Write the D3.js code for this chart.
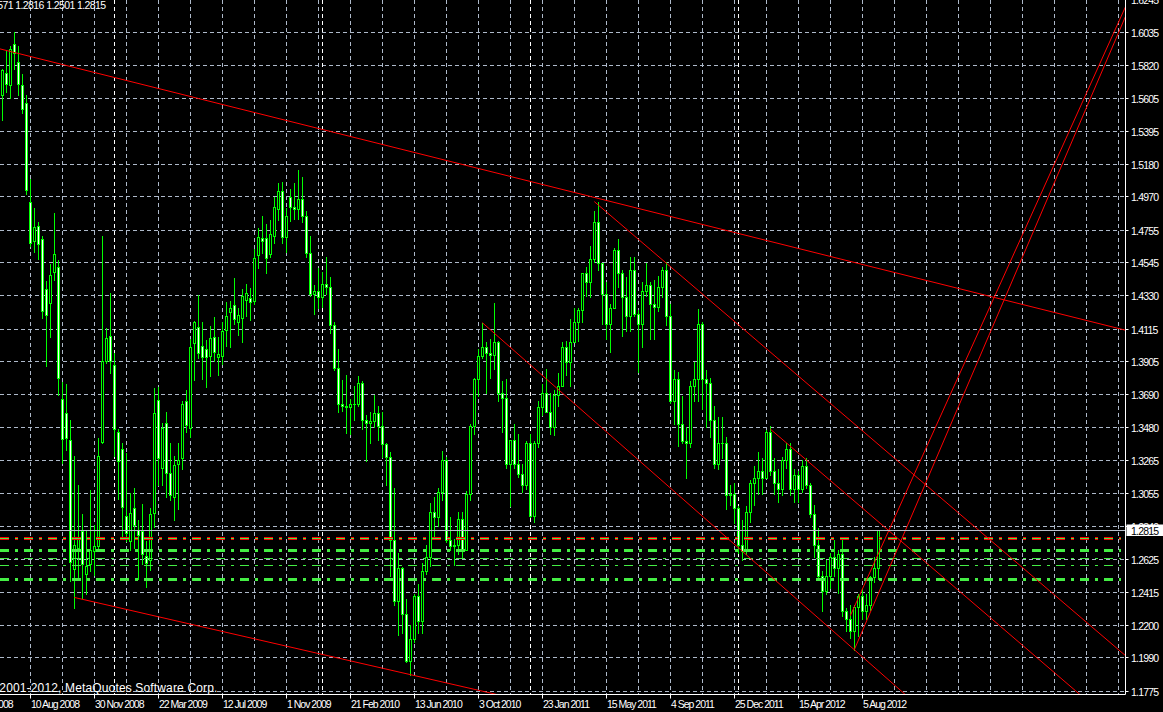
<!DOCTYPE html>
<html><head><meta charset="utf-8">
<script src="https://cdn.jsdelivr.net/npm/d3@7"></script>
<style>
html,body{margin:0;padding:0;background:#000;overflow:hidden}
svg{display:block}
text{font-family:"Liberation Sans",Arial,sans-serif}
</style></head><body>
<svg id="c" width="1163" height="712"></svg>
<script>
// ---------------- DATA ----------------
const firstWeek = "2008-06-22";   // first weekly bar (Sunday)
const opens = [
1.5627,1.5773,1.5693,1.5961,1.5842,1.5693,1.5575,1.4938,1.4686,1.4785,
1.4696,1.4374,1.4287,1.4488,1.4518,1.3663,1.3572,1.3396,1.2566,1.2703,
1.2809,1.2529,1.2599,1.2678,1.2710,1.3386,1.3911,1.4072,1.3881,1.3453,
1.3342,1.2908,1.2742,1.2958,1.2818,1.2809,1.2647,1.2620,1.2923,1.3656,
1.3214,1.3505,1.3182,1.3030,1.3242,1.3279,1.3650,1.3479,1.4023,1.4126,
1.4007,1.3984,1.3941,1.4062,1.3932,1.3943,1.4109,1.4227,1.4271,1.4163,
1.4185,1.4303,1.4318,1.4298,1.4594,1.4702,1.4702,1.4601,1.4719,1.4890,
1.5008,1.4708,1.4971,1.4903,1.4890,1.4960,1.4850,1.4610,1.4345,1.4365,
1.4320,1.4410,1.4390,1.4140,1.3865,1.3630,1.3620,1.3610,1.3630,1.3630,
1.3770,1.3530,1.3510,1.3520,1.3570,1.3490,1.3370,1.3290,1.2750,1.2360,
1.2570,1.2270,1.1970,1.2110,1.2390,1.2230,1.2550,1.2640,1.2930,1.2900,
1.3060,1.3270,1.2750,1.2710,1.2720,1.2890,1.2690,1.3050,1.3490,1.3790,
1.3940,1.4000,1.3960,1.3950,1.4030,1.3700,1.3670,1.3240,1.3400,1.3240,
1.3180,1.3110,1.3380,1.2910,1.3380,1.3610,1.3700,1.3580,1.3480,1.3690,
1.3750,1.4000,1.3900,1.4030,1.4160,1.4240,1.4480,1.4420,1.4570,1.4810,
1.4540,1.4340,1.4150,1.4250,1.4630,1.4480,1.4320,1.4200,1.4500,1.4210,
1.4150,1.4360,1.4400,1.4280,1.4260,1.4390,1.4500,1.4200,1.3650,1.3790,
1.3500,1.3390,1.3380,1.3750,1.3790,1.4150,1.3790,1.3770,1.3530,1.3240,
1.3380,1.3380,1.3040,1.3050,1.2960,1.2720,1.2680,1.2930,1.3120,1.3150,
1.3200,1.3150,1.3450,1.3200,1.3120,1.3080,1.3270,1.3340,1.3080,1.3170,
1.3080,1.3230,1.3110,1.2920,1.2720,1.2520,1.2420,1.2520,1.2640,1.2570,
1.2660,1.2290,1.2240,1.2160,1.2320,1.2390,1.2290,1.2330,1.2510,1.2571];
const highs = [
1.5798,1.5911,1.5946,1.6036,1.5946,1.5768,1.5627,1.5087,1.4901,1.4808,
1.4716,1.4426,1.4535,1.4864,1.4560,1.3775,1.3762,1.3527,1.3292,1.3106,
1.2920,1.2809,1.3074,1.2846,1.3411,1.4716,1.4121,1.4351,1.3960,1.3470,
1.3378,1.3317,1.3057,1.3089,1.2883,1.2982,1.2747,1.2960,1.3732,1.3738,
1.3505,1.3580,1.3380,1.3294,1.3376,1.3651,1.3721,1.4049,1.4169,1.4335,
1.4163,1.4044,1.4135,1.4191,1.4062,1.4163,1.4288,1.4298,1.4443,1.4255,
1.4372,1.4406,1.4379,1.4631,1.4767,1.4847,1.4795,1.4821,1.4967,1.5058,
1.5064,1.4896,1.5019,1.5063,1.5144,1.5100,1.4880,1.4720,1.4400,1.4510,
1.4485,1.4580,1.4455,1.4160,1.3990,1.3785,1.3820,1.3665,1.3745,1.3815,
1.3780,1.3560,1.3580,1.3690,1.3620,1.3580,1.3380,1.3320,1.3090,1.2670,
1.2580,1.2370,1.2200,1.2400,1.2470,1.2600,1.2720,1.2990,1.3030,1.3090,
1.3330,1.3290,1.2900,1.2760,1.2930,1.2930,1.3070,1.3500,1.3800,1.3990,
1.4157,1.4030,1.4050,1.4282,1.4040,1.3780,1.3790,1.3400,1.3500,1.3440,
1.3240,1.3390,1.3440,1.3390,1.3650,1.3760,1.3860,1.3700,1.3720,1.3830,
1.4030,1.4040,1.4180,1.4250,1.4250,1.4480,1.4520,1.4650,1.4880,1.4940,
1.4540,1.4420,1.4280,1.4640,1.4700,1.4500,1.4450,1.4580,1.4580,1.4240,
1.4420,1.4540,1.4420,1.4430,1.4460,1.4520,1.4550,1.4280,1.3850,1.3840,
1.3680,1.3480,1.3780,1.3900,1.4247,1.4160,1.3850,1.3800,1.3620,1.3550,
1.3550,1.3420,1.3110,1.3120,1.2970,1.2880,1.2970,1.3140,1.3230,1.3320,
1.3280,1.3460,1.3486,1.3280,1.3210,1.3290,1.3380,1.3380,1.3210,1.3200,
1.3270,1.3280,1.3120,1.2980,1.2830,1.2550,1.2620,1.2670,1.2750,1.2690,
1.2750,1.2310,1.2330,1.2330,1.2400,1.2440,1.2400,1.2520,1.2640,1.2816];
const lows = [
1.5466,1.5651,1.5607,1.5798,1.5627,1.5513,1.4988,1.4654,1.4617,1.4567,
1.4188,1.3874,1.4064,1.4431,1.3688,1.3247,1.3336,1.2487,1.2314,1.2512,
1.2376,1.2405,1.2549,1.2524,1.2698,1.3378,1.3898,1.3833,1.3297,1.3019,
1.2759,1.2747,1.2685,1.2702,1.2500,1.2599,1.2450,1.2560,1.2836,1.3106,
1.3106,1.3030,1.3009,1.2880,1.2955,1.3208,1.3451,1.3415,1.3785,1.3926,
1.3790,1.3742,1.3811,1.3910,1.3818,1.3893,1.4006,1.4001,1.4148,1.4077,
1.4033,1.4200,1.4174,1.4277,1.4508,1.4609,1.4480,1.4579,1.4674,1.4821,
1.4674,1.4615,1.4816,1.4830,1.4826,1.4810,1.4585,1.4330,1.4215,1.4250,
1.4260,1.4345,1.4090,1.3850,1.3580,1.3585,1.3445,1.3435,1.3530,1.3615,
1.3470,1.3265,1.3380,1.3480,1.3400,1.3290,1.3110,1.2520,1.2330,1.2140,
1.2150,1.1960,1.1876,1.2090,1.2150,1.2150,1.2530,1.2585,1.2760,1.2840,
1.3010,1.2740,1.2690,1.2590,1.2660,1.2640,1.2690,1.3010,1.3440,1.3680,
1.3930,1.3700,1.3800,1.3860,1.3650,1.3450,1.3220,1.2970,1.3220,1.3160,
1.3060,1.3080,1.2900,1.2870,1.3350,1.3560,1.3640,1.3440,1.3430,1.3620,
1.3750,1.3820,1.3750,1.4030,1.4040,1.4160,1.4330,1.4320,1.4550,1.4500,
1.4150,1.4050,1.3970,1.4250,1.4390,1.4070,1.4100,1.4100,1.4200,1.3840,
1.4000,1.4330,1.4050,1.4050,1.4230,1.4320,1.4140,1.3640,1.3500,1.3360,
1.3380,1.3150,1.3350,1.3650,1.3650,1.3600,1.3480,1.3420,1.3220,1.3210,
1.3280,1.2950,1.2980,1.2860,1.2670,1.2624,1.2660,1.2870,1.2980,1.3050,
1.3050,1.3150,1.3170,1.3050,1.3000,1.3040,1.3220,1.3040,1.3000,1.3000,
1.3060,1.3090,1.2900,1.2640,1.2500,1.2290,1.2400,1.2440,1.2520,1.2410,
1.2260,1.2160,1.2120,1.2042,1.2130,1.2240,1.2240,1.2300,1.2480,1.2501];
const closes = [
1.5788,1.5699,1.5929,1.5904,1.5699,1.5540,1.5013,1.4671,1.4773,1.4666,
1.4233,1.4208,1.4468,1.4604,1.3800,1.3404,1.3408,1.2611,1.2718,1.2760,
1.2599,1.2586,1.2685,1.2710,1.3297,1.3911,1.4060,1.3911,1.3470,1.3262,
1.2965,1.2797,1.2926,1.2846,1.2784,1.2660,1.2604,1.2920,1.3576,1.3279,
1.3479,1.3182,1.3041,1.3235,1.3268,1.3630,1.3494,1.3997,1.4159,1.3958,
1.3936,1.3932,1.4055,1.3969,1.3954,1.4102,1.4200,1.4255,1.4178,1.4206,
1.4329,1.4346,1.4292,1.4573,1.4709,1.4687,1.4573,1.4728,1.4903,1.5008,
1.4713,1.4847,1.4903,1.4890,1.4960,1.4850,1.4610,1.4345,1.4365,1.4320,
1.4410,1.4390,1.4140,1.3865,1.3630,1.3620,1.3610,1.3630,1.3630,1.3770,
1.3530,1.3510,1.3520,1.3570,1.3490,1.3370,1.3290,1.2750,1.2360,1.2570,
1.2270,1.1970,1.2110,1.2390,1.2230,1.2550,1.2640,1.2930,1.2900,1.3060,
1.3270,1.2750,1.2710,1.2720,1.2890,1.2690,1.3050,1.3490,1.3790,1.3940,
1.4000,1.3960,1.3950,1.4030,1.3700,1.3670,1.3240,1.3400,1.3240,1.3180,
1.3110,1.3380,1.2910,1.3380,1.3610,1.3700,1.3580,1.3480,1.3690,1.3750,
1.4000,1.3900,1.4030,1.4160,1.4240,1.4480,1.4420,1.4570,1.4810,1.4540,
1.4340,1.4150,1.4250,1.4630,1.4480,1.4320,1.4200,1.4500,1.4210,1.4150,
1.4360,1.4400,1.4280,1.4260,1.4390,1.4500,1.4200,1.3650,1.3790,1.3500,
1.3390,1.3380,1.3750,1.3790,1.4150,1.3790,1.3770,1.3530,1.3240,1.3380,
1.3380,1.3040,1.3050,1.2960,1.2720,1.2680,1.2930,1.3120,1.3150,1.3200,
1.3150,1.3450,1.3200,1.3120,1.3080,1.3270,1.3340,1.3080,1.3170,1.3080,
1.3230,1.3110,1.2920,1.2720,1.2520,1.2420,1.2520,1.2640,1.2570,1.2660,
1.2290,1.2240,1.2160,1.2320,1.2390,1.2290,1.2330,1.2510,1.2570,1.2815];

const priceTicks = ["1.6245","1.6035","1.5820","1.5605","1.5395","1.5180","1.4970","1.4755",
  "1.4545","1.4330","1.4115","1.3905","1.3690","1.3480","1.3265","1.3055","1.2840","1.2625",
  "1.2415","1.2200","1.1990","1.1775"];
const dateTicks = ["20 Apr 2008","10 Aug 2008","30 Nov 2008","22 Mar 2009","12 Jul 2009",
  "1 Nov 2009","21 Feb 2010","13 Jun 2010","3 Oct 2010","23 Jan 2011","15 May 2011",
  "4 Sep 2011","25 Dec 2011","15 Apr 2012","5 Aug 2012"];
const gridStart = "2008-08-10";          // vertical grid every 8 weeks
const yearStarts = ["2009-01-04","2010-01-03","2011-01-02","2012-01-01"];
const lastPrice = 1.2815;
const headerText = "1.2571 1.2816 1.2501 1.2815";
const copyright = "\u00A92001-2012, MetaQuotes Software Corp.";
// horizontal levels (prices)
const levelPrices = [1.2767, 1.2760, 1.2752, 1.2682, 1.2633, 1.2588, 1.2493];
// trend lines: [date1, price1, date2, price2]
const trendAnchors = [
  ["2008-06-22", 1.5924, "2011-04-24", 1.4967],
  ["2011-04-24", 1.4940, "2011-08-28", 1.4542],
  ["2008-10-26", 1.2380, "2010-06-06", 1.1881],
  ["2010-10-10", 1.4157, "2012-07-22", 1.2042],
  ["2012-02-26", 1.3469, "2013-03-24", 1.2227],
  ["2012-07-15", 1.2262, "2013-10-20", 1.6040],
  ["2012-07-22", 1.2042, "2013-10-27", 1.6029]
];

// ---------------- DRAW ----------------
const W = 1163, H = 712, PR = 1125.5, PB = 694.5;
const svg = d3.select("#c");
svg.append("rect").attr("width", W).attr("height", H).attr("fill", "#000");

const parseISO = d3.utcParse("%Y-%m-%d");
const parseLbl = d3.utcParse("%d %b %Y");
const t0 = parseISO(firstWeek);
const weeks = d3.utcWeek.range(t0, d3.utcWeek.offset(t0, closes.length));
const bars = weeks.map((d, i) => ({d, o: opens[i], h: highs[i], l: lows[i], c: closes[i]}));

const x = d3.scaleUtc().domain([t0, weeks[weeks.length - 1]]).range([2.3, 878.3]);
const y = d3.scaleLinear().domain([1.1775, 1.6035]).range([691, 32.3]);
const px = v => Math.floor(v) + 0.5;

const clip = svg.append("defs").append("clipPath").attr("id", "plot");
clip.append("rect").attr("x", 0).attr("y", 0).attr("width", PR).attr("height", PB);

const GRID = "#aeb9ca";
const gGrid = svg.append("g").attr("clip-path", "url(#plot)");
gGrid.selectAll("line.h").data(priceTicks).join("line")
  .attr("x1", 0).attr("x2", PR)
  .attr("y1", d => px(y(+d))).attr("y2", d => px(y(+d)))
  .attr("stroke", GRID).attr("stroke-dasharray", "4,3");
const g0 = parseISO(gridStart);
const vgrid = d3.range(-1, 40).map(k => d3.utcWeek.offset(g0, 8 * k)).filter(d => x(d) > 0 && x(d) < PR - 2);
gGrid.selectAll("line.v").data(vgrid).join("line")
  .attr("x1", d => px(x(d))).attr("x2", d => px(x(d)))
  .attr("y1", 0).attr("y2", PB)
  .attr("stroke", GRID).attr("stroke-dasharray", "4,3");
gGrid.selectAll("line.ys").data(yearStarts).join("line")
  .attr("x1", d => px(x(parseISO(d)))).attr("x2", d => px(x(parseISO(d))))
  .attr("y1", 0).attr("y2", PB)
  .attr("stroke", "#ffffff").attr("stroke-dasharray", "4,3");

// candles
const CG = "#00ff00";
const gC = svg.append("g").attr("clip-path", "url(#plot)");
bars.forEach(b => {
  const cx = px(x(b.d));
  gC.append("line").attr("x1", cx).attr("x2", cx)
    .attr("y1", Math.round(y(b.h))).attr("y2", Math.round(y(b.l)) + 1)
    .attr("stroke", CG).attr("stroke-width", 1);
  const top = Math.round(y(Math.max(b.o, b.c)));
  const bot = Math.round(y(Math.min(b.o, b.c)));
  if (bot - top < 1) {
    gC.append("line").attr("x1", cx - 1.5).attr("x2", cx + 1.5)
      .attr("y1", top + 0.5).attr("y2", top + 0.5).attr("stroke", CG);
  } else {
    gC.append("rect").attr("x", cx - 1).attr("width", 2)
      .attr("y", top + 0.5).attr("height", bot - top)
      .attr("fill", b.c < b.o ? "#ffffff" : "#000000")
      .attr("stroke", CG).attr("stroke-width", 1);
  }
});

// horizontal levels
const LG = "#44ee44";
const levelStyle = [
  {c: "#ff0000", w: 1}, {c: LG, w: 1}, {c: "#ff0000", w: 1},
  {c: LG, w: 3}, {c: LG, w: 1}, {c: LG, w: 1}, {c: LG, w: 3}
];
const gL = svg.append("g").attr("clip-path", "url(#plot)");
levelPrices.forEach((p, i) => {
  const s = levelStyle[i];
  const yy = s.w % 2 ? px(y(p)) : Math.round(y(p));
  gL.append("line").attr("x1", 0).attr("x2", 1121).attr("y1", yy).attr("y2", yy)
    .attr("stroke", s.c).attr("stroke-width", s.w).attr("stroke-dasharray", "9,6,3,6");
});

// trend lines
const gT = svg.append("g").attr("clip-path", "url(#plot)");
trendAnchors.forEach((a, i) => {
  const x1 = x(parseISO(a[0])), y1 = y(a[1]);
  const x2 = x(parseISO(a[2])), y2 = y(a[3]);
  const k = (y2 - y1) / (x2 - x1);
  const xs = i === 0 ? 0 : x1;
  const xe = PR;
  gT.append("line")
    .attr("x1", xs).attr("y1", y1 + k * (xs - x1))
    .attr("x2", xe).attr("y2", y1 + k * (xe - x1))
    .attr("stroke", "#ff0000").attr("stroke-width", 1);
});

// price line
const yp = px(y(lastPrice));
svg.append("line").attr("x1", 0).attr("x2", PR).attr("y1", yp).attr("y2", yp)
  .attr("stroke", "#b8c0cc");

// axes
svg.append("line").attr("x1", PR).attr("x2", PR).attr("y1", 0).attr("y2", PB).attr("stroke", "#fff");
svg.append("line").attr("x1", 0).attr("x2", PR).attr("y1", PB).attr("y2", PB).attr("stroke", "#fff");

const gY = svg.append("g");
priceTicks.forEach(t => {
  const yy = px(y(+t));
  gY.append("line").attr("x1", PR).attr("x2", PR + 3).attr("y1", yy).attr("y2", yy).attr("stroke", "#fff");
  gY.append("text").attr("x", 1131).attr("y", yy + 4).attr("fill", "#fff")
    .attr("font-size", "10.5px").attr("letter-spacing", "-0.8px").text(t);
});
gY.append("rect").attr("x", 1126.5).attr("y", yp - 6).attr("width", 37).attr("height", 11.5).attr("fill", "#fff");
gY.append("text").attr("x", 1131).attr("y", yp + 4).attr("fill", "#000")
  .attr("font-size", "10.5px").attr("letter-spacing", "-0.8px").text(lastPrice.toFixed(4));

const gX = svg.append("g");
dateTicks.forEach(t => {
  const xx = px(x(parseLbl(t)));
  gX.append("line").attr("x1", xx).attr("x2", xx).attr("y1", PB).attr("y2", PB + 4).attr("stroke", "#fff");
  gX.append("text").attr("x", xx + 0.5).attr("y", 707.5).attr("fill", "#fff")
    .attr("font-size", "10.5px").attr("letter-spacing", "-1px").text(t);
});

// header & copyright
svg.append("text").attr("x", 105.5).attr("y", 9).attr("text-anchor", "end").attr("fill", "#fff")
  .attr("font-size", "10.5px").attr("letter-spacing", "-0.6px").text(headerText);
svg.append("text").attr("x", 217.5).attr("y", 692).attr("text-anchor", "end").attr("fill", "#fff")
  .attr("font-size", "12px").attr("letter-spacing", "0.15px").text(copyright);
</script>
</body></html>
